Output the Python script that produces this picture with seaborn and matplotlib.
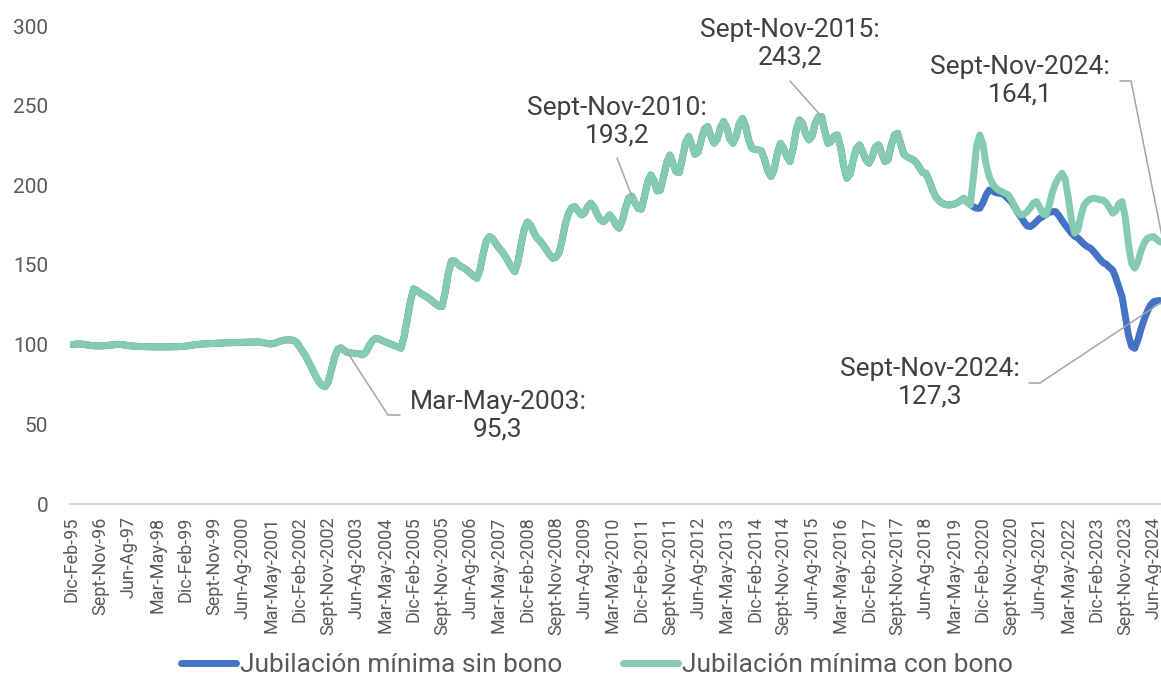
import pandas as pd
import matplotlib.pyplot as plt
import seaborn as sns

# --- Data (monthly rolling 3-month index, base Dic-Feb-95 = 100) ---
con_bono = [
    100.0, 100.3, 100.5, 100.4, 100.1, 99.8, 99.5, 99.3, 99.2, 99.2, 99.3, 99.5,
    99.7, 99.9, 100.1, 100.2, 100.0, 99.7, 99.4, 99.2, 99.0, 98.9, 98.8, 98.8,
    98.7, 98.7, 98.6, 98.6, 98.6, 98.6, 98.6, 98.6, 98.7, 98.7, 98.8, 98.9,
    99.1, 99.4, 99.7, 100.0, 100.2, 100.4, 100.5, 100.6, 100.7, 100.8, 100.9, 101.0,
    101.1, 101.2, 101.2, 101.3, 101.3, 101.4, 101.5, 101.5, 101.6, 101.6, 101.7, 101.7,
    101.5, 101.0, 100.6, 100.5, 100.9, 101.6, 102.3, 102.8, 103.0, 103.0, 102.7, 101.5,
    98.5, 95.5, 92.5, 88.5, 84.5, 80.5, 77.0, 74.5, 73.6, 76.5, 84.0, 92.0,
    97.0, 98.0, 96.5, 95.3, 94.8, 94.6, 94.5, 94.2, 93.6, 95.5, 99.5, 102.5,
    104.0, 103.5, 102.7, 101.8, 101.0, 100.2, 99.4, 98.6, 97.8, 105.0, 116.0, 127.0,
    135.0, 134.0, 132.5, 131.2, 130.2, 128.8, 127.2, 125.5, 124.2, 124.0, 133.0, 145.0,
    152.5, 152.5, 150.5, 149.0, 148.0, 146.5, 144.8, 143.0, 141.7, 147.0, 157.0, 165.0,
    167.8, 166.5, 163.5, 160.5, 158.5, 155.5, 152.0, 148.5, 145.8, 152.0, 163.0, 172.5,
    177.0, 175.0, 170.5, 167.0, 165.0, 162.5, 159.5, 156.5, 154.3, 155.0, 157.5, 166.0,
    176.0, 182.5, 186.0, 186.6, 184.0, 181.5, 182.5, 186.5, 188.8, 186.5, 182.0, 178.5,
    177.2, 179.0, 181.4, 179.0, 175.0, 173.1, 178.0, 186.0, 192.0, 193.2, 189.0, 185.5,
    185.0, 193.0, 202.0, 206.5, 203.0, 196.5, 197.0, 205.0, 214.0, 219.0, 214.0, 208.5,
    208.0, 217.0, 227.0, 230.6, 225.0, 219.5, 221.0, 229.0, 235.5, 236.8, 231.0, 226.5,
    229.0, 236.0, 240.0, 236.5, 229.0, 226.5, 231.0, 239.0, 242.0, 237.0, 228.0, 223.3,
    222.5, 222.2, 221.5, 216.0, 209.0, 205.5, 210.0, 220.0, 226.4, 223.0, 218.0, 215.0,
    223.0, 235.0, 241.0, 239.0, 232.0, 228.5, 231.0, 239.0, 243.0, 243.2, 234.0, 226.4,
    227.5, 231.0, 231.6, 224.0, 212.0, 204.5, 207.0, 216.0, 223.0, 225.4, 221.0, 216.0,
    213.9, 218.0, 224.0, 225.4, 220.0, 215.0, 216.0, 225.0, 231.5, 232.7, 226.0, 219.5,
    218.0, 217.0, 216.0, 214.0, 211.0, 208.0, 207.5, 203.0, 197.5, 193.0, 190.5, 189.0,
    188.0, 187.7, 187.8, 188.3, 189.2, 190.5, 191.9, 189.5, 187.7, 205.0, 225.0, 231.6,
    226.0, 213.0, 205.5, 201.0, 198.5, 197.0, 196.0, 195.0, 194.0, 191.0, 187.0, 183.5,
    181.4, 181.8, 183.5, 186.0, 189.0, 189.8, 186.0, 182.0, 181.4, 188.0, 196.0, 201.3,
    205.0, 207.6, 204.0, 192.0, 178.0, 170.0, 172.0, 181.0, 187.7, 190.0, 191.5, 191.9,
    191.5, 191.0, 190.8, 189.0, 186.0, 182.5, 184.0, 188.5, 189.8, 180.0, 163.0, 151.0,
    148.0, 152.0, 159.0, 164.0, 166.8, 167.5, 167.8, 166.0, 164.5, 164.1,
]

# "sin bono" is identical to "con bono" until the series split (Dic-Feb-2020)
inicio_split = 283
sin_bono_tramo = [
    189.5, 188.0, 186.5, 185.6, 185.6, 189.0, 194.0, 197.1, 196.5, 195.5, 195.0, 195.0,
    193.5, 191.5, 189.8, 186.5, 183.0, 180.3, 177.0, 174.5, 174.1, 175.5, 177.5, 179.3,
    180.5, 182.0, 183.0, 183.5, 183.5, 181.0, 178.0, 175.1, 172.5, 170.0, 168.0, 167.0,
    165.0, 163.0, 161.5, 160.5, 158.5, 156.0, 153.5, 151.5, 150.5, 148.5, 146.9, 142.0,
    136.0, 130.0, 118.0, 106.0, 99.0, 97.7, 103.0, 110.0, 116.0, 121.0, 124.9, 127.0,
    127.5, 127.6, 127.3,
]
sin_bono = con_bono[:inicio_split] + sin_bono_tramo

tick_labels = [
    "Dic-Feb-95", "Sept-Nov-96", "Jun-Ag-97", "Mar-May-98", "Dic-Feb-99", "Sept-Nov-99",
    "Jun-Ag-2000", "Mar-May-2001", "Dic-Feb-2002", "Sept-Nov-2002", "Jun-Ag-2003",
    "Mar-May-2004", "Dic-Feb-2005", "Sept-Nov-2005", "Jun-Ag-2006", "Mar-May-2007",
    "Dic-Feb-2008", "Sept-Nov-2008", "Jun-Ag-2009", "Mar-May-2010", "Dic-Feb-2011",
    "Sept-Nov-2011", "Jun-Ag-2012", "Mar-May-2013", "Dic-Feb-2014", "Sept-Nov-2014",
    "Jun-Ag-2015", "Mar-May-2016", "Dic-Feb-2017", "Sept-Nov-2017", "Jun-Ag-2018",
    "Mar-May-2019", "Dic-Feb-2020", "Sept-Nov-2020", "Jun-Ag-2021", "Mar-May-2022",
    "Dic-Feb-2023", "Sept-Nov-2023", "Jun-Ag-2024",
]
tick_step = 9

series_names = ["Jubilación mínima sin bono", "Jubilación mínima con bono"]
colors = ["#4472C4", "#84CBB1"]

# (label, month index, value)
annotations = [
    ("Mar-May-2003", 87, 95.3),
    ("Sept-Nov-2010", 177, 193.2),
    ("Sept-Nov-2015", 237, 243.2),
    ("Sept-Nov-2024", 345, 164.1),
    ("Sept-Nov-2024", 345, 127.3),
]

# --- Long-form table ---
n = len(con_bono)
df = pd.concat([
    pd.DataFrame({"mes": range(n), "valor": sin_bono, "serie": series_names[0]}),
    pd.DataFrame({"mes": range(n), "valor": con_bono, "serie": series_names[1]}),
])

# --- Plot ---
sns.set_theme(style="white")
plt.rcParams["font.family"] = ["Roboto", "DejaVu Sans"]

W, H = 1161, 678
fig = plt.figure(figsize=(W / 100, H / 100), dpi=100)
ax = fig.add_axes([70.4 / W, 174 / H, 1094.4 / W, 478 / H])

sns.lineplot(data=df, x="mes", y="valor", hue="serie", hue_order=series_names,
             palette=colors, linewidth=5, ax=ax, legend=True,
             solid_joinstyle="round", solid_capstyle="round")

ax.set_xlim(-0.5, n - 0.5)
ax.set_ylim(0, 300)
ax.set_yticks(range(0, 301, 50))
ax.set_xticks(range(0, n, tick_step)[:len(tick_labels)])
ax.set_xticklabels(tick_labels, rotation=90)
ax.set_xlabel("")
ax.set_ylabel("")
ax.tick_params(axis="x", length=0, pad=9, labelsize=13, labelcolor="#595959")
ax.tick_params(axis="y", length=0, pad=16, labelsize=15, labelcolor="#595959")
for side in ["top", "right", "left"]:
    ax.spines[side].set_visible(False)
ax.spines["bottom"].set_color("#D9D9D9")
ax.spines["bottom"].set_linewidth(1.5)
ax.grid(False)

# --- Legend ---
handles, labels = ax.get_legend_handles_labels()
ax.get_legend().remove()
for h in handles:
    h.set_linewidth(5)
    h.set_solid_capstyle("round")
fig.legend(handles, labels, loc="center", bbox_to_anchor=(597 / W, 13 / H), ncol=2,
           frameon=False, fontsize=19, labelcolor="#595959", handlelength=2.1,
           handletextpad=0.15, columnspacing=2.3)

# --- Data labels with leader lines (positions in figure pixels) ---
text_pos = [(498, 262), (617, 556), (790, 634), (1020, 597), (930, 295)]
elbows = [((400, 263), (388, 263)), None, None,
          ((1120, 597), (1131, 597)), ((1029, 295), (1040, 295))]
leader_start = [None, (617, 520), (790, 597), None, None]
line_kw = dict(arrowstyle="-", color="#A6A6A6", lw=1.1, shrinkA=0, shrinkB=0)

for k, (lab, mes, val) in enumerate(annotations):
    txt = f"{lab}:\n{val:.1f}".replace(".", ",")
    ax.annotate(txt, xy=text_pos[k], xycoords="figure pixels", ha="center",
                va="center", fontsize=19, color="#404040", linespacing=1.2)
    if elbows[k] is not None:
        a, b = elbows[k]
        ax.annotate("", xy=b, xycoords="figure pixels", xytext=a,
                    textcoords="figure pixels", arrowprops=line_kw)
        start = b
    else:
        start = leader_start[k]
    ax.annotate("", xy=(mes, val), xycoords="data", xytext=start,
                textcoords="figure pixels", arrowprops=line_kw,
                annotation_clip=False)

plt.savefig("out.png", dpi=100)
